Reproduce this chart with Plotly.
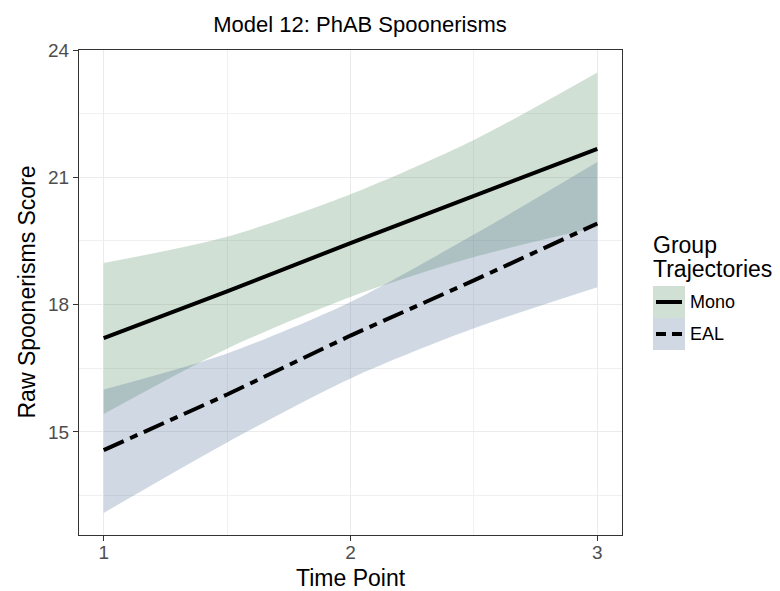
import plotly.graph_objects as go

# ---- data ----
time_points = [1, 1.5, 2, 2.5, 3]
mono_fit = [17.21, 18.31, 19.45, 20.57, 21.67]
mono_lower = [15.42, 16.96, 18.18, 19.12, 19.83]
mono_upper = [18.98, 19.60, 20.60, 21.88, 23.47]
eal_fit = [14.57, 15.88, 17.27, 18.57, 19.91]
eal_lower = [13.09, 14.75, 16.26, 17.44, 18.41]
eal_upper = [16.00, 16.85, 18.06, 19.65, 21.36]
x_ticks = [1, 2, 3]
y_ticks = [15, 18, 21, 24]
groups = ["Mono", "EAL"]

GREEN = "rgba(71,131,87,0.25)"
BLUE = "rgba(67,99,143,0.25)"
FONT = "Liberation Sans, Arial, sans-serif"

W, H = 780, 591
L, R, T, B = 79, 622, 50, 535
PW, PH = R - L, B - T


def px(x):
    return (x - L) / PW


def py(y):
    return (B - y) / PH


fig = go.Figure()


def add_band(lower, upper, color):
    fig.add_trace(go.Scatter(
        x=time_points, y=lower, mode="lines",
        line=dict(width=0, shape="spline", smoothing=0.8),
        hoverinfo="skip", showlegend=False))
    fig.add_trace(go.Scatter(
        x=time_points, y=upper, mode="lines", fill="tonexty",
        fillcolor=color, line=dict(width=0, shape="spline", smoothing=0.8),
        hoverinfo="skip", showlegend=False))


add_band(mono_lower, mono_upper, GREEN)
add_band(eal_lower, eal_upper, BLUE)

fig.add_trace(go.Scatter(
    x=time_points, y=mono_fit, mode="lines", name=groups[0],
    line=dict(color="black", width=4), showlegend=False))
fig.add_trace(go.Scatter(
    x=time_points, y=eal_fit, mode="lines", name=groups[1],
    line=dict(color="black", width=4, dash="22px,7px,8px,7px"),
    showlegend=False))

axis_common = dict(
    showline=True, mirror=True, linecolor="#333333", linewidth=1.1,
    ticks="outside", ticklen=5, tickwidth=1.1, tickcolor="#333333",
    tickfont=dict(family=FONT, size=19, color="#4d4d4d"),
    showgrid=True, gridcolor="#ebebeb", gridwidth=1.1,
    zeroline=False,
    minor=dict(showgrid=True, gridcolor="#f0f0f0", gridwidth=0.7),
)

fig.update_xaxes(range=[0.9, 3.1], tickvals=x_ticks,
                 ticktext=[str(v) for v in x_ticks],
                 minor_tickvals=[1.5, 2.5], ticklabelstandoff=-5,
                 **axis_common)
fig.update_yaxes(range=[12.57, 24.0], tickvals=y_ticks,
                 ticktext=[str(v) for v in y_ticks],
                 minor_tickvals=[13.5, 16.5, 19.5, 22.5], **axis_common)

annotations = [
    dict(text="Time Point", x=0.5, y=py(578), xref="paper", yref="paper",
         xanchor="center", yanchor="middle", showarrow=False,
         font=dict(family=FONT, size=23, color="black")),
    dict(text="Raw Spoonerisms Score", x=px(26), y=0.5, xref="paper",
         yref="paper", xanchor="center", yanchor="middle", textangle=-90,
         showarrow=False, font=dict(family=FONT, size=23, color="black")),
    dict(text="Group", x=px(651), y=py(245), xref="paper", yref="paper",
         xanchor="left", yanchor="middle", showarrow=False,
         font=dict(family=FONT, size=23, color="black")),
    dict(text="Trajectories", x=px(651), y=py(269), xref="paper",
         yref="paper", xanchor="left", yanchor="middle", showarrow=False,
         font=dict(family=FONT, size=23, color="black")),
    dict(text=groups[0], x=px(688), y=py(302), xref="paper", yref="paper",
         xanchor="left", yanchor="middle", showarrow=False,
         font=dict(family=FONT, size=18, color="black")),
    dict(text=groups[1], x=px(688), y=py(334), xref="paper", yref="paper",
         xanchor="left", yanchor="middle", showarrow=False,
         font=dict(family=FONT, size=18, color="black")),
]

shapes = [
    dict(type="rect", xref="paper", yref="paper", x0=px(653), x1=px(685),
         y0=py(318), y1=py(286), fillcolor=GREEN, line=dict(width=0),
         layer="above"),
    dict(type="rect", xref="paper", yref="paper", x0=px(653), x1=px(685),
         y0=py(350), y1=py(318), fillcolor=BLUE, line=dict(width=0),
         layer="above"),
    dict(type="line", xref="paper", yref="paper", x0=px(656), x1=px(682),
         y0=py(302), y1=py(302), line=dict(color="black", width=4),
         layer="above"),
    dict(type="line", xref="paper", yref="paper", x0=px(656), x1=px(682),
         y0=py(334), y1=py(334),
         line=dict(color="black", width=4, dash="10px,6px"),
         layer="above"),
]

fig.update_layout(
    width=W, height=H, autosize=False,
    margin=dict(l=L, r=W - R, t=T, b=H - B, pad=0),
    paper_bgcolor="white", plot_bgcolor="white",
    title=dict(text="Model 12: PhAB Spoonerisms", x=px(360), xref="paper",
               xanchor="center", y=1 - 24 / H, yref="container",
               yanchor="middle",
               font=dict(family=FONT, size=22, color="black")),
    annotations=annotations, shapes=shapes, showlegend=False,
)

fig.write_html("out.html")
